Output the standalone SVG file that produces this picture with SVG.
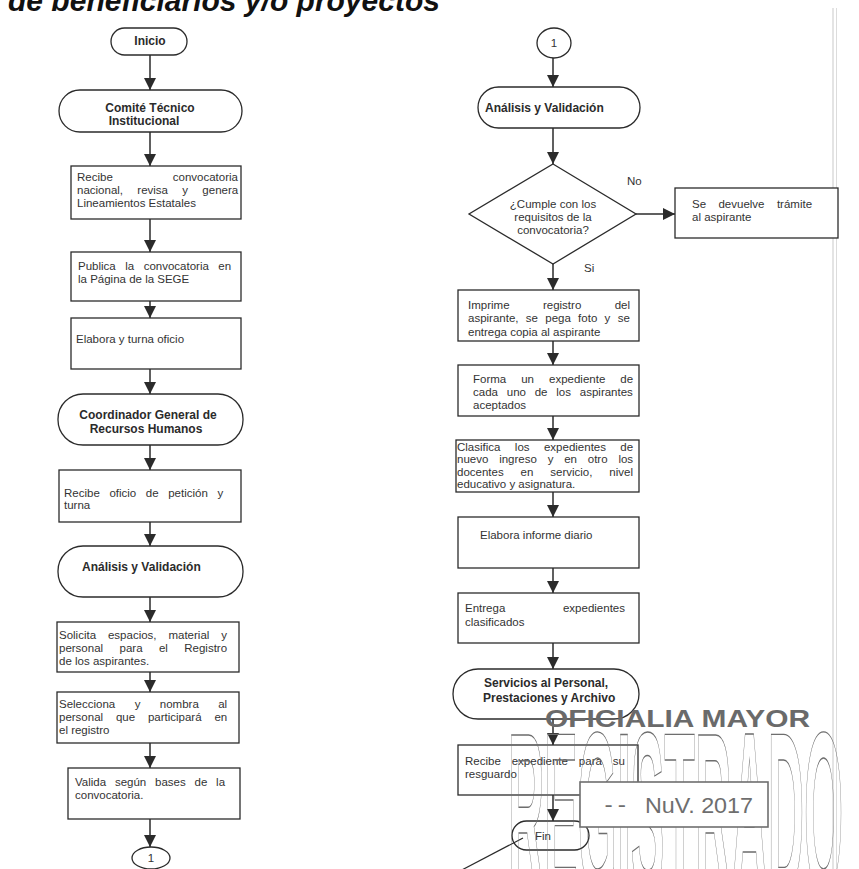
<svg xmlns="http://www.w3.org/2000/svg" width="859" height="869" viewBox="0 0 859 869">
<style>
.bg{fill:#ffffff}
.shape{fill:#ffffff;stroke:#2b2b2b;stroke-width:1.3}
.t{font-family:"Liberation Sans",Arial,sans-serif;font-size:11.5px;fill:#333333}
.b{font-family:"Liberation Sans",Arial,sans-serif;font-size:12px;font-weight:bold;fill:#2b2b2b}
.c{text-anchor:middle}
.e{text-anchor:end}
.edge{stroke:#2b2b2b;stroke-width:1.5;fill:none;marker-end:url(#ah)}
.stamp{fill:none;stroke:#6e6e6e;stroke-width:1.4}
</style>
<defs>
<marker id="ah" markerUnits="userSpaceOnUse" markerWidth="12" markerHeight="12" viewBox="0 0 10 10" refX="10" refY="5" orient="auto">
<path d="M0,0 L10,5 L0,10 z" fill="#2b2b2b"/>
</marker>
</defs>
<rect class="bg" x="0" y="0" width="859" height="869"/>
<line x1="833" y1="8" x2="833" y2="869" stroke="#d2d2d2" stroke-width="1.2"/>
<line x1="836.5" y1="8" x2="836.5" y2="869" stroke="#dcdcdc" stroke-width="1"/>
<text x="8" y="10.5" font-family="Liberation Sans,Arial,sans-serif" font-size="30" font-weight="bold" font-style="italic" fill="#111" textLength="432" lengthAdjust="spacingAndGlyphs">de beneficiarios y/o proyectos</text>

<g id="connectors">
<line class="edge" x1="150" y1="55" x2="150" y2="90"/>
<line class="edge" x1="150" y1="132" x2="150" y2="166"/>
<line class="edge" x1="150" y1="219" x2="150" y2="252"/>
<line class="edge" x1="150" y1="301" x2="150" y2="318"/>
<line class="edge" x1="150" y1="369" x2="150" y2="394"/>
<line class="edge" x1="150" y1="445" x2="150" y2="470"/>
<line class="edge" x1="150" y1="522" x2="150" y2="546"/>
<line class="edge" x1="150" y1="597" x2="150" y2="622"/>
<line class="edge" x1="150" y1="672" x2="150" y2="692"/>
<line class="edge" x1="150" y1="743" x2="150" y2="768"/>
<line class="edge" x1="150" y1="819" x2="150" y2="847"/>
<line class="edge" x1="553" y1="58" x2="553" y2="87"/>
<line class="edge" x1="553" y1="128" x2="553" y2="164"/>
<line class="edge" x1="636" y1="214" x2="675" y2="214"/>
<line class="edge" x1="553" y1="264" x2="553" y2="290"/>
<line class="edge" x1="553" y1="341" x2="553" y2="365"/>
<line class="edge" x1="553" y1="416" x2="553" y2="440"/>
<line class="edge" x1="553" y1="492" x2="553" y2="517"/>
<line class="edge" x1="553" y1="568" x2="553" y2="593"/>
<line class="edge" x1="553" y1="643" x2="553" y2="669"/>
<line class="edge" x1="553" y1="719" x2="553" y2="745"/>
<line class="edge" x1="553" y1="795" x2="553" y2="821"/>
<text class="t" x="627" y="185">No</text>
<text class="t" x="584" y="272">Si</text>
</g>

<g id="inicio"><rect class="shape" x="111" y="28" width="76" height="27" rx="13.5"/><text class="b c" x="150" y="45" font-size="11.5">Inicio</text></g>
<g id="comite"><rect class="shape" x="59" y="90" width="183" height="42" rx="21"/><text class="b c" x="150" y="112">Comité Técnico</text><text class="b c" x="144" y="125">Institucional</text></g>
<g id="recibe-conv"><rect class="shape" x="71" y="166" width="170" height="53"/>
<text class="t" x="77" y="181">Recibe</text><text class="t e" x="238" y="181">convocatoria</text>
<text class="t" x="77" y="194" word-spacing="11.1">nacional, revisa y genera</text>
<text class="t" x="77" y="207">Lineamientos Estatales</text></g>
<g id="publica"><rect class="shape" x="71" y="252" width="170" height="49"/>
<text class="t" x="78" y="270" word-spacing="6.3">Publica la convocatoria en</text>
<text class="t" x="78" y="283">la Página de la SEGE</text></g>
<g id="elabora-oficio"><rect class="shape" x="71" y="318" width="170" height="51"/>
<text class="t" x="76" y="343">Elabora y turna oficio</text></g>
<g id="coordinador"><rect class="shape" x="58" y="394" width="185" height="51" rx="25"/>
<text class="b c" x="148" y="419">Coordinador General de</text>
<text class="b c" x="146" y="433">Recursos Humanos</text></g>
<g id="recibe-oficio"><rect class="shape" x="59" y="470" width="182" height="52"/>
<text class="t" x="64" y="497" word-spacing="6.4">Recibe oficio de petición y</text>
<text class="t" x="64" y="509">turna</text></g>
<g id="analisis-1"><rect class="shape" x="58" y="546" width="185" height="51" rx="25"/>
<text class="b" x="82" y="571">Análisis y Validación</text></g>
<g id="solicita"><rect class="shape" x="57" y="622" width="182" height="50"/>
<text class="t" x="59" y="639" word-spacing="8.7">Solicita espacios, material y</text>
<text class="t" x="59" y="652" word-spacing="13.2">personal para el Registro</text>
<text class="t" x="59" y="665">de los aspirantes.</text></g>
<g id="selecciona"><rect class="shape" x="57" y="692" width="182" height="51"/>
<text class="t" x="59" y="708" word-spacing="16.2">Selecciona y nombra al</text>
<text class="t" x="59" y="721" word-spacing="9.6">personal que participará en</text>
<text class="t" x="59" y="734">el registro</text></g>
<g id="valida"><rect class="shape" x="68" y="768" width="172" height="51"/>
<text class="t" x="75" y="786" word-spacing="5.6">Valida según bases de la</text>
<text class="t" x="75" y="799">convocatoria.</text></g>
<g id="conector-1a"><ellipse class="shape" cx="151" cy="858" rx="19" ry="11"/><text class="t c" x="151" y="862" font-size="9">1</text></g>

<g id="conector-1b"><ellipse class="shape" cx="554" cy="43" rx="17" ry="15"/><text class="t c" x="554" y="47" font-size="9">1</text></g>
<g id="analisis-2"><rect class="shape" x="478" y="87" width="162" height="41" rx="20.5"/>
<text class="b" x="485" y="112">Análisis y Validación</text></g>
<g id="cumple"><polygon class="shape" points="553,164 636,214 553,264 469,214"/>
<text class="t c" x="553" y="208">¿Cumple con los</text>
<text class="t c" x="553" y="221">requisitos de la</text>
<text class="t c" x="553" y="234">convocatoria?</text></g>
<g id="devuelve"><rect class="shape" x="675" y="188" width="163" height="50"/>
<text class="t" x="692" y="208" word-spacing="9.2">Se devuelve trámite</text>
<text class="t" x="692" y="221">al aspirante</text></g>
<g id="imprime"><rect class="shape" x="458" y="290" width="181" height="51"/>
<text class="t" x="468" y="309" word-spacing="30.2">Imprime registro del</text>
<text class="t" x="468" y="322" word-spacing="4.1">aspirante, se pega foto y se</text>
<text class="t" x="468" y="336">entrega copia al aspirante</text></g>
<g id="forma"><rect class="shape" x="458" y="365" width="181" height="51"/>
<text class="t" x="473" y="383" word-spacing="11.8">Forma un expediente de</text>
<text class="t" x="473" y="396" word-spacing="5.6">cada uno de los aspirantes</text>
<text class="t" x="473" y="409">aceptados</text></g>
<g id="clasifica"><rect class="shape" x="456" y="440" width="183" height="52"/>
<text class="t" x="457" y="451" word-spacing="11.2">Clasifica los expedientes de</text>
<text class="t" x="457" y="463" word-spacing="7.6">nuevo ingreso y en otro los</text>
<text class="t" x="457" y="476" word-spacing="13.7">docentes en servicio, nivel</text>
<text class="t" x="457" y="488">educativo y asignatura.</text></g>
<g id="informe"><rect class="shape" x="458" y="517" width="181" height="51"/>
<text class="t" x="480" y="539">Elabora informe diario</text></g>
<g id="entrega"><rect class="shape" x="458" y="593" width="181" height="50"/>
<text class="t" x="465" y="612">Entrega</text><text class="t e" x="625" y="612">expedientes</text>
<text class="t" x="465" y="626">clasificados</text></g>
<g id="servicios"><rect class="shape" x="453" y="669" width="186" height="50" rx="25"/>
<text class="b" x="484" y="687">Servicios al Personal,</text>
<text class="b" x="483" y="702">Prestaciones y Archivo</text></g>
<g id="recibe-exp"><rect class="shape" x="458" y="745" width="180" height="50"/>
<text class="t" x="465" y="765" word-spacing="7.7">Recibe expediente para su</text>
<text class="t" x="465" y="778">resguardo</text></g>
<g id="fin"><rect class="shape" x="512" y="821" width="77" height="29" rx="14.5"/>
<text class="t" x="535" y="840">Fin</text></g>

<g id="sello">
<line x1="523" y1="838" x2="458" y2="872" stroke="#2b2b2b" stroke-width="1.2"/>
<text x="545" y="727" font-family="Liberation Sans,Arial,sans-serif" font-size="23" font-weight="bold" fill="#6a6a6a" textLength="265" lengthAdjust="spacingAndGlyphs">OFICIALIA MAYOR</text>
<text class="stamp" x="508" y="893" font-family="Liberation Sans,Arial,sans-serif" font-size="230" font-weight="bold" textLength="335" lengthAdjust="spacingAndGlyphs">REGISTRADO</text>
<rect x="580" y="782" width="188" height="45" fill="#ffffff" stroke="#6e6e6e" stroke-width="1.6"/>
<text x="602" y="812" font-family="Liberation Mono,monospace" font-size="22" fill="#6e6e6e">--</text>
<text x="645" y="813" font-family="Liberation Sans,sans-serif" font-size="22" fill="#6e6e6e" textLength="108" lengthAdjust="spacingAndGlyphs">NuV. 2017</text>
</g>
</svg>
